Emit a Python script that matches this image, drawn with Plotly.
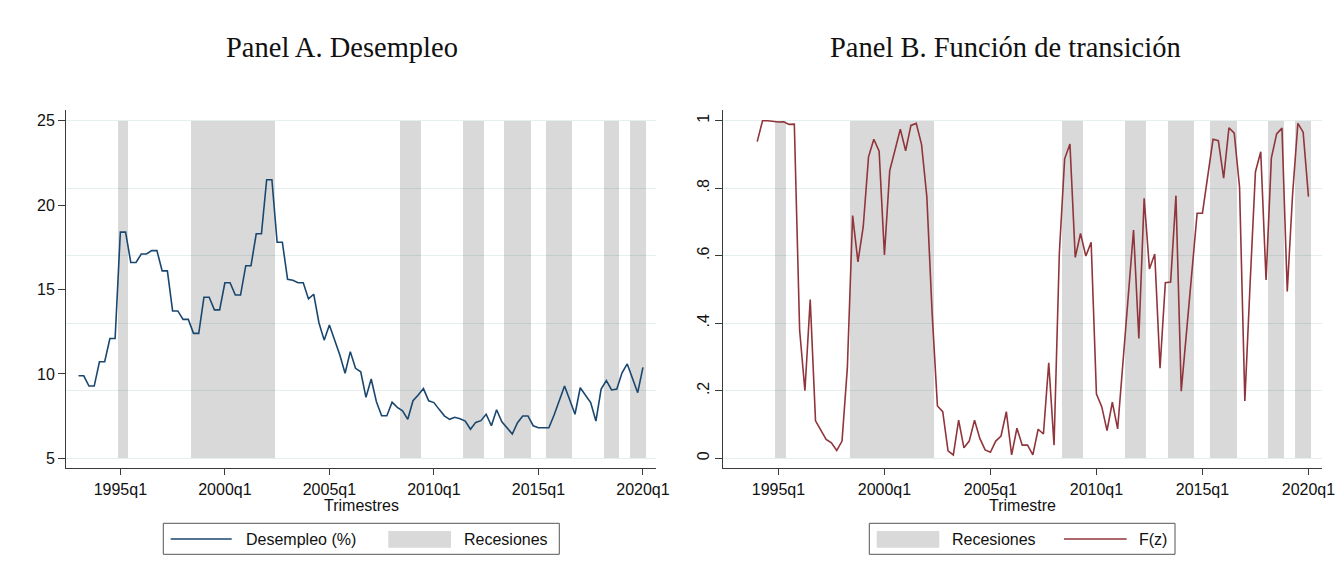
import plotly.graph_objects as go

# ---------------- data ----------------
unemp_start = "1993q1"
unemp = [9.89, 9.89, 9.28, 9.28, 10.72, 10.72, 12.1, 12.1,
         18.4, 18.4, 16.6, 16.6, 17.1, 17.1, 17.3, 17.3, 16.1, 16.1, 13.73, 13.73,
         13.23, 13.23, 12.4, 12.4, 14.54, 14.54, 13.79, 13.79, 15.4, 15.4, 14.67, 14.67,
         16.41, 16.41, 18.3, 18.3, 21.5, 21.5, 17.8, 17.8,
         15.6, 15.55, 15.4, 15.4, 14.44, 14.72, 13.03, 12.0, 12.9, 12.05, 11.12, 10.04,
         11.32, 10.33, 10.13, 8.61, 9.7, 8.35, 7.52, 7.52, 8.32, 8.02, 7.82, 7.31,
         8.41, 8.75, 9.13, 8.41, 8.3, 7.9, 7.52, 7.31, 7.43, 7.35, 7.21, 6.72,
         7.13, 7.23, 7.61, 6.93, 7.88, 7.17, 6.78, 6.44, 7.11, 7.51, 7.51, 6.93,
         6.81, 6.81, 6.81, 7.57, 8.41, 9.28, 8.45, 7.61, 9.18, 8.75, 8.3, 7.21,
         9.1, 9.6, 9.05, 9.1, 10.07, 10.59, 9.74, 8.89, 10.39]

fz_start = "1994q1"
fz = [0.938, 1.0, 1.0, 0.998, 0.996, 0.997, 0.989, 0.99, 0.38, 0.2,
      0.47, 0.111, 0.084, 0.056, 0.046, 0.023, 0.051, 0.267, 0.719, 0.582,
      0.686, 0.893, 0.945, 0.910, 0.602, 0.852, 0.913, 0.975, 0.911, 0.986,
      0.992, 0.930, 0.775, 0.43, 0.155, 0.138, 0.022, 0.01, 0.113, 0.031,
      0.051, 0.113, 0.059, 0.025, 0.018, 0.051, 0.066, 0.138, 0.01, 0.089,
      0.039, 0.039, 0.01, 0.086, 0.072, 0.283, 0.039, 0.607, 0.887, 0.931,
      0.595, 0.666, 0.599, 0.640, 0.19, 0.153, 0.082, 0.166, 0.087, 0.28,
      0.47, 0.676, 0.355, 0.770, 0.561, 0.605, 0.267, 0.52, 0.522, 0.778,
      0.199, 0.37, 0.55, 0.726, 0.726, 0.83, 0.945, 0.941, 0.830, 0.979,
      0.963, 0.803, 0.170, 0.52, 0.849, 0.908, 0.528, 0.889, 0.961, 0.978,
      0.494, 0.78, 0.992, 0.966, 0.775]

recession_start = ["1995q1", "1998q3", "2008q3", "2011q3", "2013q3", "2015q3", "2018q2", "2019q3"]
recession_end = ["1995q2", "2002q2", "2009q2", "2012q2", "2014q3", "2016q3", "2018q4", "2020q1"]

tick_labels = ["1995q1", "2000q1", "2005q1", "2010q1", "2015q1", "2020q1"]


def tq(label):
    """Stata-style quarterly index: 1960q1 = 0."""
    y, q = label.split("q")
    return (int(y) - 1960) * 4 + int(q) - 1


x_unemp = [tq(unemp_start) + i for i in range(len(unemp))]
x_fz = [tq(fz_start) + i for i in range(len(fz))]
rec_s = [tq(s) for s in recession_start]
rec_e = [tq(e) for e in recession_end]
rec_x = [(s + e) / 2 for s, e in zip(rec_s, rec_e)]
rec_w = [e - s + 1 for s, e in zip(rec_s, rec_e)]
rec_y = [1] * len(rec_s)
tick_vals = [tq(t) for t in tick_labels]

# ---------------- styling ----------------
W, H = 1337, 575
NAVY = "#1A476F"
MAROON = "#90353B"
BARC = "rgba(0,0,0,0.15)"
GRID = "#E6EFF0"
AX = "#3a3a3a"
SANS = "Liberation Sans, Arial, sans-serif"
SERIF = "Liberation Serif, Times New Roman, serif"


def px(x):
    return x / W


def py(y):
    return 1 - y / H


ydom = [py(468.3), py(110)]
xdomA = [px(66), px(656)]
xdomB = [px(723.3), px(1321.7)]
xr = [129.6, 242.5]
rec_range = [-0.0296, 1.0317]

fig = go.Figure()

fig.add_trace(go.Bar(x=rec_x, y=rec_y, width=rec_w, base=0, xaxis="x", yaxis="y",
                     marker=dict(color=BARC, line=dict(width=0)), showlegend=False,
                     name="Recesiones"))
fig.add_trace(go.Scatter(x=x_unemp, y=unemp, xaxis="x", yaxis="y2", mode="lines",
                         line=dict(color=NAVY, width=1.6), showlegend=False,
                         name="Desempleo (%)"))

fig.add_trace(go.Bar(x=rec_x, y=rec_y, width=rec_w, base=0, xaxis="x2", yaxis="y3",
                     marker=dict(color=BARC, line=dict(width=0)), showlegend=False,
                     name="Recesiones"))
fig.add_trace(go.Scatter(x=x_fz, y=fz, xaxis="x2", yaxis="y3", mode="lines",
                         line=dict(color=MAROON, width=1.6), showlegend=False,
                         name="F(z)"))

xcommon = dict(range=xr, tickmode="array", tickvals=tick_vals, ticktext=tick_labels,
               ticks="outside", ticklen=6, tickwidth=1, tickcolor=AX, automargin=False,
               showline=True, linecolor=AX, linewidth=1, showgrid=False, zeroline=False,
               tickfont=dict(family=SANS, size=16, color="#111"))

fig.update_layout(
    template="none",
    width=W, height=H, margin=dict(l=0, r=0, t=0, b=0, pad=0), autosize=False,
    paper_bgcolor="white", plot_bgcolor="white", showlegend=False, bargap=0,
    xaxis=dict(domain=xdomA, anchor="y", **xcommon),
    xaxis2=dict(domain=xdomB, anchor="y3", **xcommon),
    yaxis=dict(domain=ydom, anchor="x", range=rec_range, tickmode="array", automargin=False,
               tickvals=[0, 0.2, 0.4, 0.6, 0.8, 1.0], showticklabels=False, ticks="",
               showgrid=True, gridcolor=GRID, gridwidth=1, showline=False, zeroline=False),
    yaxis2=dict(overlaying="y", anchor="x", side="left", range=[4.41, 25.63],
                tickmode="array", tickvals=[5, 10, 15, 20, 25], automargin=False,
                ticktext=["5", "10", "15", "20", "25"],
                ticks="outside", ticklen=7, tickwidth=1, tickcolor=AX,
                showline=True, linecolor=AX, linewidth=1, showgrid=False, zeroline=False,
                tickfont=dict(family=SANS, size=16, color="#111")),
    yaxis3=dict(domain=ydom, anchor="x2", range=rec_range, tickmode="array", automargin=False,
                tickvals=[0, 0.2, 0.4, 0.6, 0.8, 1.0],
                ticktext=["0", ".2", ".4", ".6", ".8", "1"], tickangle=-90,
                ticks="outside", ticklen=7, tickwidth=1, tickcolor=AX,
                showline=True, linecolor=AX, linewidth=1,
                showgrid=True, gridcolor=GRID, gridwidth=1, zeroline=False,
                tickfont=dict(family=SANS, size=16, color="#111")),
)

ann = []
shapes = []
ann.append(dict(x=px(342), y=py(47), xref="paper", yref="paper", text="Panel A. Desempleo",
                showarrow=False, xanchor="center", yanchor="middle",
                font=dict(family=SERIF, size=28.5, color="#111")))
ann.append(dict(x=px(1006), y=py(47), xref="paper", yref="paper",
                text="Panel B. Función de transición",
                showarrow=False, xanchor="center", yanchor="middle",
                font=dict(family=SERIF, size=28.5, color="#111")))
ann.append(dict(x=px(361), y=py(505), xref="paper", yref="paper", text="Trimestres",
                showarrow=False, xanchor="center", yanchor="middle",
                font=dict(family=SANS, size=16, color="#111")))
ann.append(dict(x=px(1022.5), y=py(505), xref="paper", yref="paper", text="Trimestre",
                showarrow=False, xanchor="center", yanchor="middle",
                font=dict(family=SANS, size=16, color="#111")))

# legend A
shapes.append(dict(type="rect", xref="paper", yref="paper", x0=px(163.3), x1=px(559.3),
                   y0=py(554.3), y1=py(523.3), line=dict(color="#555", width=1),
                   fillcolor="white", layer="above"))
shapes.append(dict(type="line", xref="paper", yref="paper", x0=px(170.7), x1=px(231.7),
                   y0=py(539), y1=py(539), line=dict(color=NAVY, width=1.6), layer="above"))
shapes.append(dict(type="rect", xref="paper", yref="paper", x0=px(388.3), x1=px(451),
                   y0=py(547.7), y1=py(531), line=dict(width=0), fillcolor="#D9D9D9",
                   layer="above"))
ann.append(dict(x=px(244.3), y=py(539.5), xref="paper", yref="paper", text="Desempleo (%)",
                showarrow=False, xanchor="left", yanchor="middle",
                font=dict(family=SANS, size=16, color="#111")))
ann.append(dict(x=px(461.7), y=py(539.5), xref="paper", yref="paper", text="Recesiones",
                showarrow=False, xanchor="left", yanchor="middle",
                font=dict(family=SANS, size=16, color="#111")))

# legend B
shapes.append(dict(type="rect", xref="paper", yref="paper", x0=px(869.3), x1=px(1175),
                   y0=py(554.3), y1=py(523.3), line=dict(color="#555", width=1),
                   fillcolor="white", layer="above"))
shapes.append(dict(type="rect", xref="paper", yref="paper", x0=px(876.7), x1=px(939.3),
                   y0=py(547.7), y1=py(531), line=dict(width=0), fillcolor="#D9D9D9",
                   layer="above"))
shapes.append(dict(type="line", xref="paper", yref="paper", x0=px(1064), x1=px(1126.7),
                   y0=py(539), y1=py(539), line=dict(color=MAROON, width=1.6), layer="above"))
ann.append(dict(x=px(950), y=py(539.5), xref="paper", yref="paper", text="Recesiones",
                showarrow=False, xanchor="left", yanchor="middle",
                font=dict(family=SANS, size=16, color="#111")))
ann.append(dict(x=px(1136.7), y=py(539.5), xref="paper", yref="paper", text="F(z)",
                showarrow=False, xanchor="left", yanchor="middle",
                font=dict(family=SANS, size=16, color="#111")))

fig.update_layout(annotations=ann, shapes=shapes)
fig.write_html("out.html")
